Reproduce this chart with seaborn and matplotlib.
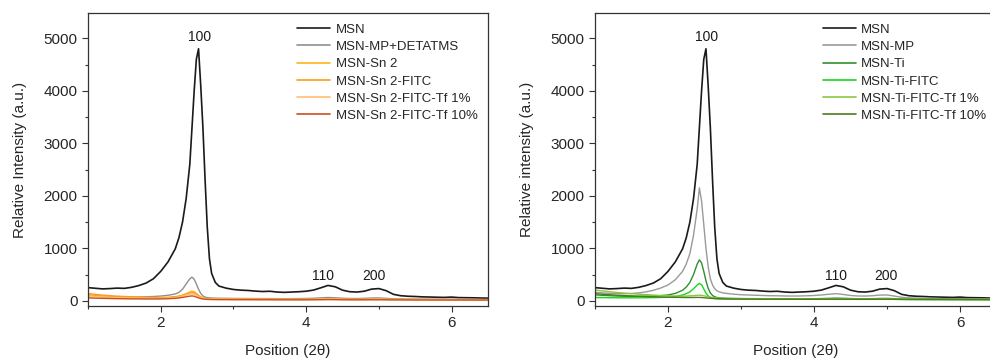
#!/usr/bin/env python3
"""
Plot XRD pola MSN (Sn dan Ti) - dua panel berdampingan
"""

import numpy as np
import pandas as pd
import matplotlib
matplotlib.use("Agg")
import matplotlib.pyplot as plt
from matplotlib.ticker import MultipleLocator
import seaborn as sns

# posisi 2-theta (grid yang dibaca dari gambar)
two_theta = [1.0, 1.1, 1.2, 1.3, 1.4, 1.5, 1.6, 1.7, 1.8, 1.9,
             2.0, 2.1, 2.2, 2.25, 2.3, 2.35, 2.4, 2.43, 2.46, 2.49,
             2.52, 2.55, 2.58, 2.61, 2.64, 2.67, 2.7, 2.75, 2.8, 2.9,
             3.0, 3.1, 3.2, 3.3, 3.4, 3.5, 3.6, 3.7, 3.8, 3.9,
             4.0, 4.1, 4.2, 4.3, 4.4, 4.5, 4.6, 4.7, 4.8, 4.9,
             5.0, 5.1, 5.2, 5.3, 5.4, 5.5, 5.6, 5.7, 5.8, 5.9,
             6.0, 6.1, 6.2, 6.3, 6.4, 6.5]

msn = [250, 238, 226, 232, 241, 236, 256, 290, 338, 420,
       560, 740, 990, 1200, 1500, 1950, 2600, 3300, 4000, 4600,
       4800, 4100, 3300, 2300, 1400, 800, 520, 350, 280, 240,
       215, 202, 196, 184, 176, 181, 166, 160, 166, 172,
       182, 203, 246, 292, 266, 202, 172, 166, 182, 222,
       232, 192, 122, 96, 86, 81, 74, 71, 67, 64,
       70, 60, 58, 56, 52, 50]

# panel kiri (Sn)
msn_mp_detatms = [112, 96, 86, 80, 76, 72, 70, 72, 76, 81,
                  90, 104, 130, 160, 220, 320, 420, 450, 410, 320,
                  220, 140, 92, 70, 60, 55, 52, 50, 48, 46,
                  45, 44, 43, 42, 42, 41, 40, 40, 41, 42,
                  44, 48, 55, 62, 56, 48, 44, 43, 46, 52,
                  54, 46, 38, 35, 33, 32, 31, 30, 30, 29,
                  30, 28, 28, 27, 26, 26]
msn_sn2 = [105, 92, 82, 74, 68, 63, 59, 56, 54, 53,
           54, 60, 72, 85, 105, 135, 170, 185, 175, 140,
           105, 75, 55, 45, 40, 37, 35, 33, 32, 31,
           30, 29, 29, 28, 28, 27, 27, 27, 26, 26,
           26, 27, 28, 30, 29, 27, 26, 26, 26, 27,
           27, 26, 24, 23, 23, 22, 22, 22, 21, 21,
           21, 20, 20, 20, 20, 19]
msn_sn2_fitc = [140, 122, 108, 97, 88, 81, 75, 70, 66, 63,
                62, 66, 78, 88, 105, 125, 145, 155, 148, 120,
                92, 68, 52, 44, 40, 37, 35, 34, 33, 32,
                31, 30, 30, 29, 29, 28, 28, 28, 27, 27,
                27, 28, 29, 31, 30, 28, 27, 27, 27, 28,
                28, 27, 25, 24, 24, 23, 23, 23, 22, 22,
                22, 21, 21, 21, 21, 20]
msn_sn2_tf1 = [85, 76, 69, 63, 58, 54, 51, 49, 47, 46,
               47, 52, 62, 72, 88, 105, 125, 132, 125, 102,
               78, 58, 45, 38, 34, 32, 30, 29, 28, 27,
               26, 26, 25, 25, 25, 24, 24, 24, 24, 23,
               23, 24, 25, 27, 26, 24, 23, 23, 23, 24,
               24, 23, 22, 21, 21, 20, 20, 20, 19, 19,
               19, 19, 18, 18, 18, 18]
msn_sn2_tf10 = [55, 50, 46, 43, 40, 38, 36, 35, 34, 34,
                35, 39, 46, 54, 64, 76, 88, 92, 86, 70,
                55, 42, 34, 29, 26, 24, 23, 22, 21, 21,
                20, 20, 20, 19, 19, 19, 18, 18, 18, 18,
                18, 19, 20, 22, 21, 19, 18, 18, 18, 19,
                19, 18, 17, 17, 16, 16, 16, 16, 15, 15,
                15, 15, 15, 14, 14, 14]

# panel kanan (Ti)
msn_mp = [162, 150, 141, 136, 134, 139, 150, 170, 200, 242,
          300, 400, 560, 700, 900, 1250, 1750, 2150, 1900, 1450,
          1000, 650, 420, 300, 230, 190, 170, 150, 140, 125,
          115, 110, 105, 100, 96, 95, 91, 90, 91, 95,
          100, 110, 124, 135, 120, 100, 91, 90, 96, 108,
          110, 90, 66, 56, 50, 47, 44, 42, 40, 39,
          38, 37, 36, 36, 35, 35]
msn_ti = [112, 104, 96, 90, 86, 84, 84, 86, 90, 98,
          110, 140, 200, 260, 350, 500, 700, 780, 720, 560,
          380, 240, 150, 100, 76, 62, 56, 50, 47, 44,
          42, 41, 40, 39, 38, 38, 37, 37, 37, 38,
          39, 42, 46, 50, 47, 42, 39, 38, 40, 44,
          45, 40, 34, 32, 31, 30, 30, 29, 29, 28,
          28, 28, 27, 27, 27, 26]
msn_ti_fitc = [62, 60, 58, 57, 56, 56, 57, 58, 60, 63,
               66, 80, 110, 135, 170, 230, 300, 330, 305, 225,
               145, 92, 62, 48, 42, 38, 36, 34, 33, 32,
               31, 30, 30, 29, 29, 28, 28, 28, 28, 28,
               28, 29, 31, 33, 31, 29, 28, 28, 29, 31,
               31, 29, 26, 25, 24, 24, 23, 23, 23, 22,
               22, 22, 22, 21, 21, 21]
msn_ti_tf1 = [205, 188, 172, 158, 146, 135, 125, 116, 108, 100,
              94, 90, 88, 90, 93, 98, 104, 106, 102, 95,
              86, 76, 68, 62, 57, 53, 50, 46, 44, 41,
              39, 37, 36, 35, 34, 33, 32, 32, 31, 31,
              31, 32, 34, 36, 34, 32, 31, 30, 31, 33,
              33, 31, 28, 27, 26, 26, 25, 25, 24, 24,
              24, 23, 23, 23, 22, 22]
msn_ti_tf10 = [135, 124, 114, 106, 98, 92, 86, 81, 76, 72,
               68, 65, 63, 62, 62, 63, 64, 64, 62, 58,
               54, 50, 47, 44, 42, 40, 39, 37, 36, 34,
               33, 32, 31, 30, 30, 29, 29, 28, 28, 28,
               28, 28, 29, 30, 29, 28, 27, 27, 27, 28,
               28, 27, 25, 24, 24, 23, 23, 23, 22, 22,
               22, 21, 21, 21, 21, 20]

sn_labels = ["MSN", "MSN-MP+DETATMS", "MSN-Sn 2", "MSN-Sn 2-FITC",
             "MSN-Sn 2-FITC-Tf 1%", "MSN-Sn 2-FITC-Tf 10%"]
ti_labels = ["MSN", "MSN-MP", "MSN-Ti", "MSN-Ti-FITC",
             "MSN-Ti-FITC-Tf 1%", "MSN-Ti-FITC-Tf 10%"]
sn_series = [msn, msn_mp_detatms, msn_sn2, msn_sn2_fitc, msn_sn2_tf1, msn_sn2_tf10]
ti_series = [msn, msn_mp, msn_ti, msn_ti_fitc, msn_ti_tf1, msn_ti_tf10]

sn_colors = ["#1a1a1a", "#8f8f8f", "#ffb31a", "#ff9a1f", "#ffc070", "#c9501c"]
ti_colors = ["#1a1a1a", "#9a9a9a", "#2f8f2f", "#19d419", "#8cc63e", "#4f7a22"]

peak_labels = ["100", "110", "200"]


def long_df(labels, series):
    frames = []
    for name, vals in zip(labels, series):
        frames.append(pd.DataFrame({"pos": two_theta, "intensity": vals, "sample": name}))
    return pd.concat(frames, ignore_index=True)


def style_axis(ax, ylabel):
    ax.set_xlim(1, 6.5)
    ax.set_ylim(-100, 5480)
    ax.xaxis.set_major_locator(MultipleLocator(2))
    ax.xaxis.set_minor_locator(MultipleLocator(1))
    ax.yaxis.set_major_locator(MultipleLocator(1000))
    ax.yaxis.set_minor_locator(MultipleLocator(500))
    ax.tick_params(which="major", length=4, width=0.8, labelsize=11, color="#333333")
    ax.tick_params(which="minor", length=2.5, width=0.8, color="#333333")
    for sp in ax.spines.values():
        sp.set_visible(True)
        sp.set_linewidth(0.9)
        sp.set_color("#333333")
    ax.set_xlabel("Position (2θ)", fontsize=11, labelpad=10)
    ax.set_ylabel(ylabel, fontsize=11, labelpad=12)


sns.set_style("ticks")
plt.rcParams["font.family"] = ["Liberation Sans", "DejaVu Sans"]

fig = plt.figure(figsize=(9.9, 3.63), dpi=100)
ax1 = fig.add_axes([0.0889, 0.157, 0.404, 0.807])
ax2 = fig.add_axes([0.601, 0.157, 0.4056, 0.807])

panels = [
    (ax1, sn_labels, sn_series, sn_colors, "Relative Intensity (a.u.)", [(2.53, 5030), (4.23, 480), (4.93, 470)]),
    (ax2, ti_labels, ti_series, ti_colors, "Relative intensity (a.u.)", [(2.53, 5030), (4.30, 480), (4.99, 470)]),
]

for ax, labels, series, colors, ylabel, label_pos in panels:
    df = long_df(labels, series)
    sns.lineplot(data=df, x="pos", y="intensity", hue="sample", hue_order=labels,
                 palette=colors, linewidth=1.0, ax=ax, legend=True)
    # MSN sedikit lebih tebal
    ax.get_lines()[0].set_linewidth(1.2)
    for txt, (px, py) in zip(peak_labels, label_pos):
        ax.text(px, py, txt, ha="center", va="center", fontsize=10, color="#1a1a1a")
    style_axis(ax, ylabel)
    leg = ax.legend(loc="upper right", frameon=False, fontsize=9.5,
                    handlelength=2.5, handletextpad=0.4, labelspacing=0.38,
                    borderaxespad=0.4)
    for line in leg.get_lines():
        line.set_linewidth(1.2)

fig.savefig("out.png", dpi=100)
